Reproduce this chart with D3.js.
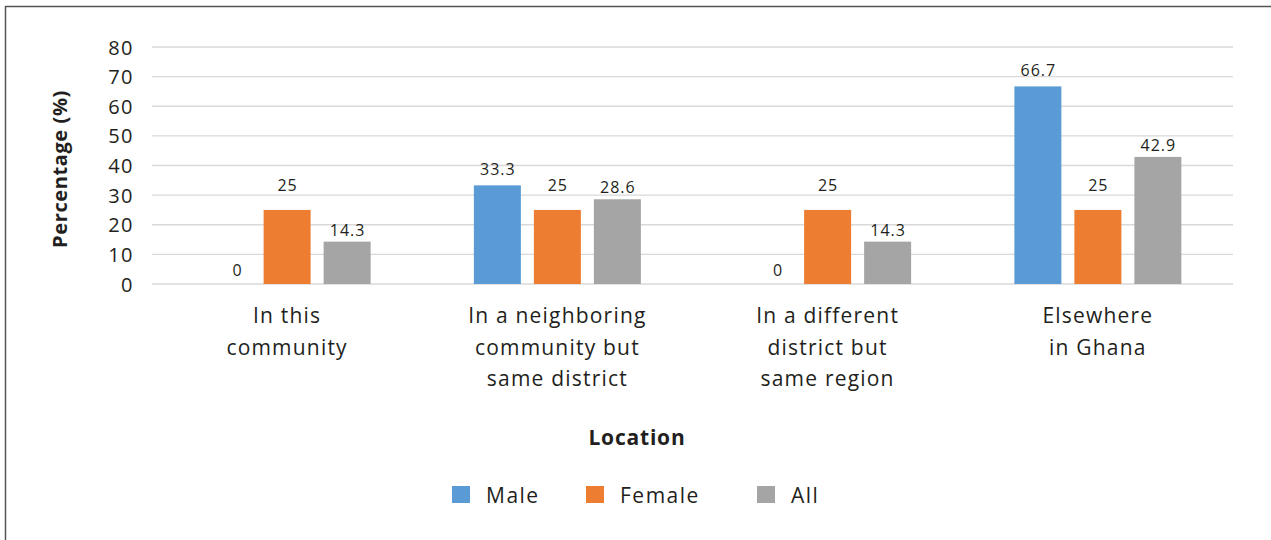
<!DOCTYPE html>
<html><head><meta charset="utf-8">
<script src="https://cdn.jsdelivr.net/npm/d3@7"></script>
<style>body{margin:0;background:#fff;} text{font-family:"Open Sans",sans-serif;fill:#231f20;}</style>
</head><body>
<svg id="c" width="1271" height="540"></svg>
<script>
const categories = [["In this","community"],["In a neighboring","community but","same district"],["In a different","district but","same region"],["Elsewhere","in Ghana"]];
const seriesNames = ["Male","Female","All"];
const male = [0, 33.3, 0, 66.7];
const female = [25, 25, 25, 25];
const all = [14.3, 28.6, 14.3, 42.9];
const yTicks = [0,10,20,30,40,50,60,70,80];
const colors = ["#5B9BD5","#ED7D31","#A5A5A5"];
const labelOffset = [10, 19, 6];
const series = [male, female, all];

const svg = d3.select("#c");
svg.append("rect").attr("x",5.5).attr("y",6.5).attr("width",1300).attr("height",600)
  .attr("fill","none").attr("stroke","#555").attr("stroke-width",1.5);

const x0 = d3.scaleBand().domain(d3.range(categories.length)).range([152,1233]).paddingInner(0).paddingOuter(0);
const y = d3.scaleLinear().domain([0,80]).range([284,47]);
const bw = 47, gap = 13;

// grid
svg.append("g").selectAll("line").data(yTicks).join("line")
  .attr("x1",152).attr("x2",1233).attr("y1",d=>y(d)).attr("y2",d=>y(d))
  .attr("stroke","#d9d9d9").attr("stroke-width",1.3);

// y axis labels
const yAxis = d3.axisLeft(y).tickValues(yTicks).tickSize(0).tickPadding(0);
const ya = svg.append("g").attr("transform","translate(134,0)").call(yAxis);
ya.select(".domain").remove();
ya.selectAll("text").style("font-size","20px").style("letter-spacing","1.5px").style("font-family","'Open Sans',sans-serif").attr("fill","#231f20").attr("dy","0.35em");

// bars
categories.forEach((c,i)=>{
  const cx = x0(i) + x0.bandwidth()/2;
  series.forEach((s,j)=>{
    const bx = cx - (3*bw+2*gap)/2 + j*(bw+gap);
    const v = s[i];
    if (v>0) svg.append("rect").attr("x",bx).attr("y",y(v)).attr("width",bw).attr("height",y(0)-y(v)).attr("fill",colors[j]);
    svg.append("text").attr("x",bx+bw/2+0.5+(v>0?0:10)).attr("y",y(v)-(v>0?labelOffset[j]:8)).attr("text-anchor","middle")
      .style("font-size","16px").style("letter-spacing","1px").text(v);
  });
  const t = svg.append("text").attr("text-anchor","middle").style("font-size","21px").style("letter-spacing","1.2px");
  c.forEach((line,k)=>t.append("tspan").attr("x",cx).attr("y",323+k*31.5).text(line));
});

// axis titles
svg.append("text").attr("transform","translate(67,169) rotate(-90)").attr("text-anchor","middle")
  .style("font-size","20px").style("font-weight","bold").style("letter-spacing","0.6px").text("Percentage (%)");
svg.append("text").attr("x",637).attr("y",445).attr("text-anchor","middle")
  .style("font-size","21px").style("font-weight","bold").style("letter-spacing","0.8px").text("Location");

// legend
const legX = [452,586,757];
seriesNames.forEach((n,j)=>{
  svg.append("rect").attr("x",legX[j]).attr("y",486).attr("width",18).attr("height",17).attr("fill",colors[j]);
  svg.append("text").attr("x",legX[j]+34).attr("y",503).style("font-size","21px").style("letter-spacing","1.5px").text(n);
});
</script>
</body></html>
